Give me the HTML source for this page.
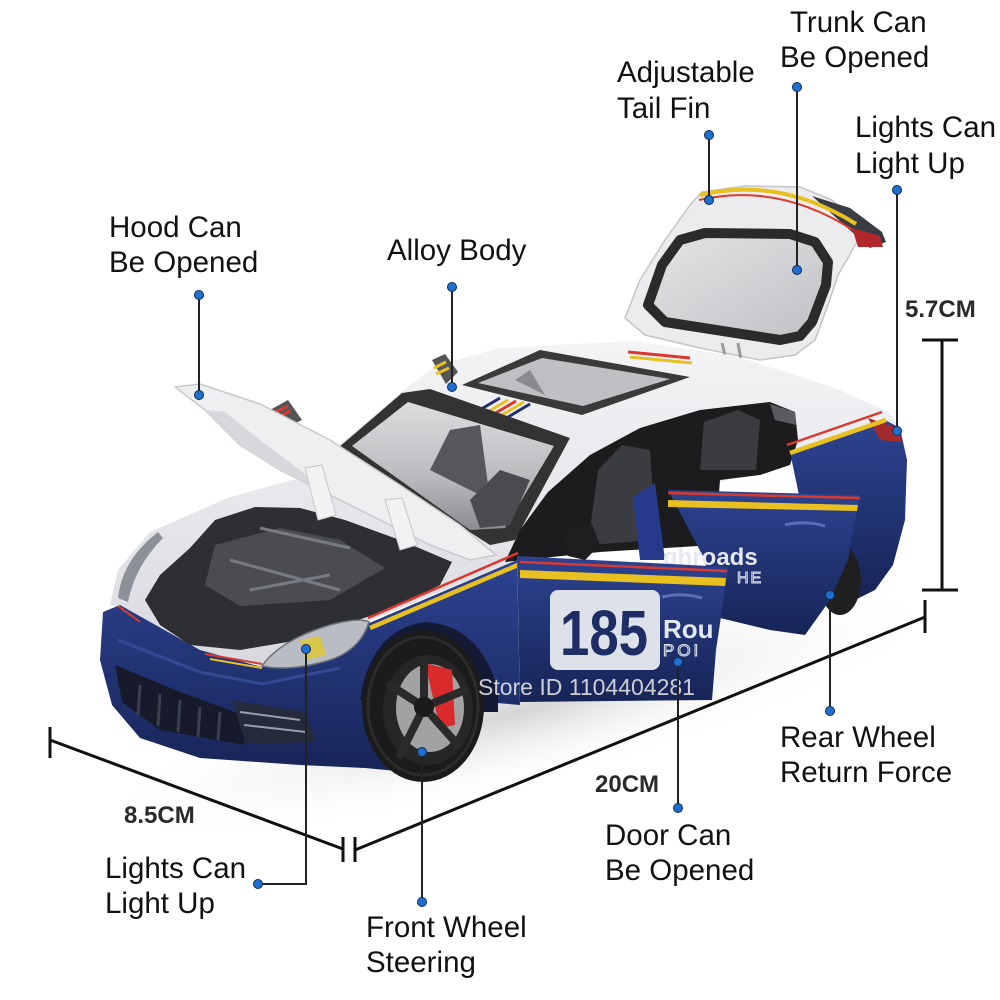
<!DOCTYPE html>
<html><head><meta charset="utf-8"><style>
html,body{margin:0;padding:0;background:#fff;}
svg{display:block;}
.lb{font-family:"Liberation Sans",Arial,sans-serif;font-size:29.5px;fill:#111;}
.dm{font-family:"Liberation Sans",Arial,sans-serif;font-size:24px;font-weight:bold;fill:#2a2a2a;}
</style></head><body>
<svg width="1000" height="1000" viewBox="0 0 1000 1000" xmlns="http://www.w3.org/2000/svg">
<defs>
<radialGradient id="sh" cx="50%" cy="50%" r="50%"><stop offset="0" stop-color="#b0b0b0" stop-opacity=".55"/><stop offset="1" stop-color="#ffffff" stop-opacity="0"/></radialGradient>
<linearGradient id="bl" x1="0" y1="0" x2="0" y2="1"><stop offset="0" stop-color="#2d4390"/><stop offset="1" stop-color="#172457"/></linearGradient>
<linearGradient id="wh" x1="0" y1="0" x2="0" y2="1"><stop offset="0" stop-color="#f4f4f6"/><stop offset="1" stop-color="#d8dae0"/></linearGradient>
<linearGradient id="gl" x1="0" y1="0" x2="1" y2="1"><stop offset="0" stop-color="#e4e5e7"/><stop offset="1" stop-color="#bfc0c3"/></linearGradient>
<linearGradient id="ws" x1="0" y1="0" x2="0" y2="1"><stop offset="0" stop-color="#dcdddf"/><stop offset="0.6" stop-color="#b9babd"/><stop offset="1" stop-color="#8a8c90"/></linearGradient>
</defs>

<!-- shadow -->
<ellipse cx="520" cy="712" rx="440" ry="75" transform="rotate(-14 520 712)" fill="url(#sh)"/>

<!-- trunk lid -->
<path d="M625,318 L640,280 L665,240 L690,205 L702,192 L745,186 L800,187 L832,200 L856,222 L858,240 L848,258 L838,275 L828,305 L815,340 L795,355 L760,360 L700,348 L645,335 Z" fill="#ececee" stroke="#c4c5c8" stroke-width="1.5"/>
<path d="M648,305 L662,265 L680,240 L705,233 L790,234 L815,242 L828,262 L826,285 L812,322 L800,336 L780,340 L665,322 Z" fill="url(#gl)" stroke="#2b2b2b" stroke-width="10" stroke-linejoin="round"/>
<path d="M812,196 L850,208 L882,232 L886,242 L870,248 L852,232 Z" fill="#3a3c44"/>
<path d="M852,228 L880,236 L883,247 L858,247 Z" fill="#b0282c"/>
<path d="M700,195 Q780,176 856,224" stroke="#e8c020" stroke-width="4" fill="none"/>
<path d="M699,200 Q778,182 853,230" stroke="#d83a30" stroke-width="2" fill="none"/>
<path d="M722,343 L728,368 M738,343 L742,366" stroke="#9a9a9a" stroke-width="3"/>

<!-- white body -->
<path d="M110,605 L118,570 L150,532 L230,497 L300,478 L345,440 L400,393 L435,366 L500,348 L633,341 L735,356 L835,388 L888,412 L905,432 L870,440 L800,452 L517,560 L367,622 L262,666 L200,650 L120,608 Z" fill="url(#wh)"/>

<!-- roof stripes -->
<g stroke-width="3" fill="none">
<path d="M628,352 L690,358" stroke="#d83a30"/>
<path d="M630,357 L692,363" stroke="#e8c020"/>
<path d="M466,418 L500,398" stroke="#1f2f6e"/>
<path d="M474,420 L508,400" stroke="#e8c020"/>
<path d="M482,421 L516,401" stroke="#d83a30"/>
<path d="M490,422 L524,402" stroke="#e8c020"/>
<path d="M498,423 L530,404" stroke="#1f2f6e"/>
</g>

<!-- windshield -->
<path d="M338,448 L402,393 L430,389 L570,438 L515,540 L490,545 Z" fill="#333" />
<path d="M352,446 L408,402 L554,446 L505,528 L470,530 Z" fill="url(#ws)"/>
<path d="M430,470 L450,430 L480,425 L490,500 Z" fill="#55575c"/>
<path d="M470,500 L500,470 L530,480 L510,525 L480,528 Z" fill="#4a4b4f"/>

<!-- sunroof -->
<path d="M462,385 L540,350 L690,377 L582,415 Z" fill="#3a3a3a"/>
<path d="M478,383 L542,358 L670,379 L583,406 Z" fill="#bfc0c3"/>
<path d="M515,380 L530,370 L545,395 Z" fill="#8a8b8e"/>

<!-- mirrors top -->
<path d="M432,360 L445,354 L458,372 L446,384 Z" fill="#555"/>
<path d="M434,368 L446,362 M436,374 L449,368" stroke="#e8c020" stroke-width="3"/>
<path d="M270,410 L288,400 L302,420 L285,428 Z" fill="#555"/>
<path d="M272,414 L288,406 M274,419 L290,411" stroke="#d83a30" stroke-width="3"/>

<!-- interior opening -->
<path d="M505,562 L520,530 L548,492 L590,455 L640,428 L700,410 L770,402 L795,412 L798,440 L790,465 L760,475 L720,480 L715,545 L600,552 Z" fill="#1c1c1e"/>
<path d="M588,545 L598,470 L622,445 L650,450 L656,540 Z" fill="#3b3c3f"/>
<path d="M700,470 L704,422 L738,410 L760,420 L756,470 Z" fill="#3b3c3f"/>
<path d="M770,404 L795,412 L796,425 L775,420 Z" fill="#5a5b5e"/>
<path d="M633,497 L655,483 L665,560 L640,560 Z" fill="#26398a"/>

<!-- engine bay -->
<path d="M145,600 L160,575 L190,548 L215,520 L255,507 L300,508 L345,520 L400,540 L452,562 L440,585 L400,605 L367,617 L300,640 L240,650 L190,645 L160,625 Z" fill="#2e2f33"/>
<path d="M215,545 L280,528 L340,540 L385,568 L330,600 L240,606 L205,585 Z" fill="#4a4c51"/>
<path d="M260,528 L350,548 M230,560 L340,590 M250,590 L330,575" stroke="#777a80" stroke-width="3"/>

<!-- hood -->
<path d="M175,387 L200,384 L260,404 L330,440 L400,485 L460,525 L496,555 L470,560 L430,545 L380,520 L330,495 L280,470 L240,445 L205,410 Z" fill="#eeeff1" stroke="#c8c9cd" stroke-width="1.5"/>
<path d="M205,410 L240,445 L280,470 L330,495 L300,470 L260,440 L225,412 Z" fill="#d6d8dc"/>
<path d="M305,468 L322,465 L336,515 L318,520 Z" fill="#f2f2f4" stroke="#c6c7ca"/>
<path d="M385,500 L402,498 L417,545 L400,550 Z" fill="#f2f2f4" stroke="#c6c7ca"/>

<!-- front left headlight -->
<path d="M118,598 Q122,560 158,532 L163,538 Q135,566 128,602 Z" fill="#8d9096"/>

<!-- blue front body -->
<path d="M103,612 L120,605 L200,650 L262,667 L367,624 L517,560 L520,705 L485,702 L470,740 L440,775 L365,768 L300,765 L200,758 L140,738 L112,705 L100,660 Z" fill="url(#bl)"/>
<path d="M118,640 L200,672 L262,684 L340,668" stroke="#3f58a8" stroke-width="3" fill="none" opacity=".6"/>
<!-- wheel well -->
<path d="M360,700 Q370,630 425,622 Q480,625 498,690 L498,712 L470,712 Z" fill="#141a33"/>

<!-- side stripes -->
<path d="M368,618 L518,553" stroke="#d83a30" stroke-width="2.5"/>
<path d="M370,628 L518,565" stroke="#e8c020" stroke-width="4.5"/>
<path d="M205,654 L262,664" stroke="#d83a30" stroke-width="2"/>
<path d="M210,659 L262,668" stroke="#e8c020" stroke-width="2"/>
<path d="M118,606 L140,622" stroke="#d83a30" stroke-width="2"/>

<!-- headlight right -->
<path d="M262,666 Q280,640 330,625 Q360,617 369,622 Q360,650 330,660 Q290,672 262,666 Z" fill="#b9bdc3" stroke="#6c7078" stroke-width="1.5"/>
<path d="M300,640 L320,636 L326,655 L306,660 Z" fill="#d8c64a"/>

<!-- grille -->
<path d="M115,665 L175,690 L240,714 L245,745 L160,730 L122,702 Z" fill="#161a2a"/>
<path d="M140,685 L138,715 M160,694 L158,726 M180,700 L178,732 M200,707 L198,737 M220,712 L218,740" stroke="#3b4050" stroke-width="3"/>
<path d="M232,700 L305,712 L316,742 L246,744 Z" fill="#252a3c"/>
<path d="M240,712 L300,720 M244,725 L306,732" stroke="#9aa0aa" stroke-width="2"/>

<!-- front wheel -->
<ellipse cx="423" cy="706" rx="61" ry="76" fill="#1b1b1b"/>
<ellipse cx="423" cy="706" rx="55" ry="69" fill="none" stroke="#2c2c2c" stroke-width="3"/>
<ellipse cx="428" cy="710" rx="45" ry="55" fill="#262626"/>
<ellipse cx="430" cy="708" rx="34" ry="44" fill="#a2a2a2"/>
<path d="M425,663 L452,670 L455,725 L440,728 Z" fill="#d92b2b"/>
<g stroke="#2a2a2a" stroke-width="8" stroke-linecap="round">
<path d="M424,707 L424,660"/><path d="M424,707 L465,690"/><path d="M424,707 L458,745"/><path d="M424,707 L400,755"/><path d="M424,707 L390,685"/>
</g>
<circle cx="424" cy="707" r="10" fill="#1a1a1a"/>

<!-- rear quarter -->
<path d="M790,452 L885,420 L900,428 L907,460 L905,520 L893,565 L875,590 L855,600 L840,560 L820,530 L800,500 Z" fill="url(#bl)"/>
<path d="M868,418 L898,428 L902,442 L880,440 Z" fill="#a32b2e"/>
<path d="M787,445 L882,412" stroke="#d83a30" stroke-width="2.5"/>
<path d="M790,453 L886,420" stroke="#e8c020" stroke-width="4.5"/>
<!-- rear tire -->
<ellipse cx="840" cy="580" rx="21" ry="35" fill="#1f1f1f"/>

<!-- rear door -->
<path d="M668,490 L860,495 L855,520 L848,560 L830,600 L805,635 L770,630 L720,618 L712,600 L705,560 Z" fill="url(#bl)"/>
<path d="M668,493 L860,498" stroke="#d83a30" stroke-width="2.5"/>
<path d="M668,500 L858,505 L857,511 L668,507 Z" fill="#e8c020"/>
<path d="M785,525 Q805,520 825,526" stroke="#5a6fb5" stroke-width="3" fill="none"/>
<text x="663" y="565" font-family="Liberation Sans,Arial,sans-serif" font-size="24" font-weight="bold" fill="#e4e8f0">ghroads</text>
<text x="737" y="583" font-family="Liberation Sans,Arial,sans-serif" font-size="16" fill="none" stroke="#dfe4ee" stroke-width="1" letter-spacing="2">HE</text>

<!-- front door -->
<path d="M517,556 L728,567 L722,610 L716,650 L712,700 L520,702 Z" fill="url(#bl)"/>
<path d="M520,562 L727,571" stroke="#d83a30" stroke-width="2.5"/>
<path d="M520,570 L726,578 L725,586 L520,578 Z" fill="#e8c020"/>
<rect x="550" y="590" width="110" height="80" rx="8" fill="#dde2ea"/>
<text x="560" y="655" font-family="Liberation Sans,Arial,sans-serif" font-size="64" font-weight="bold" fill="#1f2d66" textLength="88" lengthAdjust="spacingAndGlyphs">185</text>
<text x="663" y="638" font-family="Liberation Sans,Arial,sans-serif" font-size="26" font-weight="bold" fill="#e4e8f0">Rou</text>
<text x="663" y="656" font-family="Liberation Sans,Arial,sans-serif" font-size="17" fill="none" stroke="#dfe4ee" stroke-width="1" letter-spacing="3">POI</text>
<path d="M662,597 Q682,592 702,598" stroke="#5a6fb5" stroke-width="3" fill="none"/>
<!-- mirror -->
<path d="M563,540 Q570,522 592,524 L600,545 L585,560 L568,556 Z" fill="#1e1e20"/>

<!-- watermark -->
<text x="478" y="695" font-family="Liberation Sans,Arial,sans-serif" font-size="23" fill="#ececec" fill-opacity=".85">Store ID 1104404281</text>

<!-- dimension lines -->
<g stroke="#111" stroke-width="3" fill="none">
<path d="M50,740 L343,849"/>
<path d="M50,727 L50,758"/>
<path d="M343,837 L343,862"/>
<path d="M355,837 L355,862"/>
<path d="M355,850 L925,617"/>
<path d="M925,600 L925,633"/>
<path d="M942,340 L942,590"/>
<path d="M922,340 L958,340"/>
<path d="M922,590 L958,590"/>
</g>
<text class="dm" x="124" y="823">8.5CM</text>
<text class="dm" x="595" y="792">20CM</text>
<text class="dm" x="905" y="317">5.7CM</text>

<!-- callout lines -->
<g stroke="#222" stroke-width="2" fill="none">
<path d="M199,295 L199,395"/>
<path d="M452,287 L452,387"/>
<path d="M709,135 L709,200"/>
<path d="M797,87 L797,270"/>
<path d="M897,190 L897,431"/>
<path d="M306,649 L306,884 L258,884"/>
<path d="M422,752 L422,902"/>
<path d="M678,662 L678,808"/>
<path d="M830,595 L830,711"/>
</g>
<g fill="#1f6fd0" stroke="#0d2a55" stroke-width="1">
<circle cx="199" cy="295" r="4.5"/><circle cx="199" cy="395" r="4.5"/>
<circle cx="452" cy="287" r="4.5"/><circle cx="452" cy="387" r="4.5"/>
<circle cx="709" cy="135" r="4.5"/><circle cx="709" cy="200" r="4.5"/>
<circle cx="797" cy="87" r="4.5"/><circle cx="797" cy="270" r="4.5"/>
<circle cx="897" cy="190" r="4.5"/><circle cx="897" cy="431" r="4.5"/>
<circle cx="306" cy="649" r="4.5"/><circle cx="258" cy="884" r="4.5"/>
<circle cx="422" cy="752" r="4.5"/><circle cx="422" cy="902" r="4.5"/>
<circle cx="678" cy="662" r="4.5"/><circle cx="678" cy="808" r="4.5"/>
<circle cx="830" cy="595" r="4.5"/><circle cx="830" cy="711" r="4.5"/>
</g>

<!-- labels -->
<text class="lb" x="109" y="237">Hood Can</text>
<text class="lb" x="109" y="272">Be Opened</text>
<text class="lb" x="387" y="260">Alloy Body</text>
<text class="lb" x="617" y="82">Adjustable</text>
<text class="lb" x="617" y="118">Tail Fin</text>
<text class="lb" x="790" y="32">Trunk Can</text>
<text class="lb" x="780" y="67">Be Opened</text>
<text class="lb" x="855" y="137">Lights Can</text>
<text class="lb" x="855" y="173">Light Up</text>
<text class="lb" x="105" y="878">Lights Can</text>
<text class="lb" x="105" y="913">Light Up</text>
<text class="lb" x="366" y="937">Front Wheel</text>
<text class="lb" x="366" y="972">Steering</text>
<text class="lb" x="605" y="845">Door Can</text>
<text class="lb" x="605" y="880">Be Opened</text>
<text class="lb" x="780" y="747">Rear Wheel</text>
<text class="lb" x="780" y="782">Return Force</text>
</svg>
</body></html>
